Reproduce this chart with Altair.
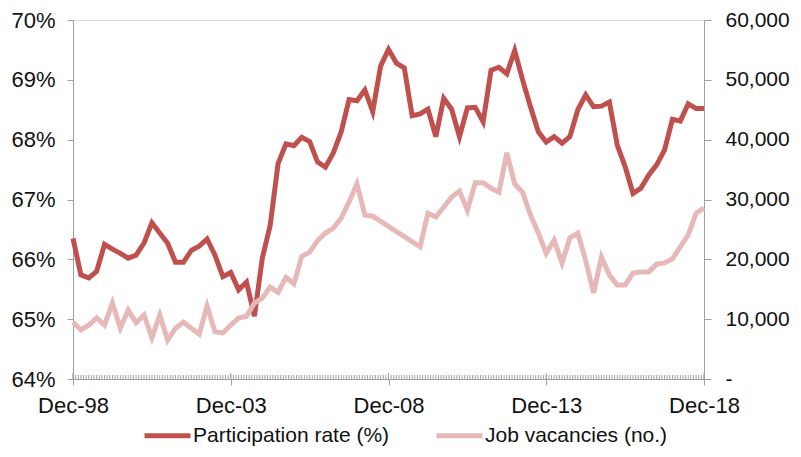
import altair as alt
import pandas as pd

# ---------------- data ----------------
series_names = ["Participation rate (%)", "Job vacancies (no.)"]
series_colors = ["#C0504D", "#E6B9B8"]

tick_labels = ["Dec-98", "Dec-03", "Dec-08", "Dec-13", "Dec-18"]
tick_quarters = [0, 20, 40, 60, 80]   # quarter index of each labelled tick (Dec-98 = 0)

# Quarterly participation rate, Dec-98 .. Dec-18 (81 quarters)
participation = [
    66.35, 65.74, 65.69, 65.80, 66.25, 66.17, 66.10, 66.02, 66.07, 66.27,
    66.61, 66.44, 66.27, 65.95, 65.95, 66.15, 66.22, 66.34, 66.07, 65.71,
    65.78, 65.49, 65.62, 65.05, 66.02, 66.57, 67.60, 67.93, 67.90, 68.04,
    67.97, 67.63, 67.54, 67.78, 68.13, 68.67, 68.65, 68.83, 68.47, 69.23,
    69.51, 69.28, 69.20, 68.40, 68.43, 68.51, 68.05, 68.69, 68.51, 68.05,
    68.53, 68.54, 68.30, 69.16, 69.21, 69.10, 69.49, 69.00, 68.55, 68.13,
    67.96, 68.05, 67.94, 68.05, 68.50, 68.75, 68.55, 68.56, 68.63, 67.91,
    67.55, 67.10, 67.19, 67.41, 67.58, 67.83, 68.34, 68.31, 68.60, 68.52,
    68.52,
]

# Quarterly job vacancies (None = survey not run)
vacancies = [
    9500, 8200, 9000, 10200, 9000, 12700, 8500, 11500, 9400, 10700,
    6900, 10700, 6500, 8500, 9500, 8500, 7500, 12200, 7900, 7700,
    9000, 10200, 10500, 12700, 13500, 15400, 14500, 17000, 15900, 20500,
    21200, 23100, 24400, 25200, 26900, 29600, 32600, 27400, 27200, None,
    None, None, None, None, 22100, 27700, 27100, 28700, 30400, 31400,
    28200, 32800, 32800, 31900, 31200, 37800, 32600, 31200, 27400, 24400,
    21000, 23200, 19400, 23600, 24400, 19800, 14400, 20400, 17400, 15700,
    15700, 17700, 17900, 17900, 19200, 19400, 20100, 22100, 24100, 27700,
    28600,
]

left_ticks = [64, 65, 66, 67, 68, 69, 70]
right_ticks = [0, 10000, 20000, 30000, 40000, 50000, 60000]

# ---------------- tables ----------------
df_p = pd.DataFrame({"idx": list(range(len(participation))),
                     "value": participation,
                     "series": series_names[0]})
df_v = pd.DataFrame({"idx": list(range(len(vacancies))),
                     "value": vacancies,
                     "series": series_names[1]}).dropna()
minor = pd.DataFrame({"idx": [m / 3 for m in range(3 * 80 + 1)]})
major = pd.DataFrame({"idx": tick_quarters})

W, H = 631, 359
FONT = "Liberation Sans"
AXIS_GREY = "#A0A0A0"

label_js = "[" + ",".join("'%s'" % t for t in tick_labels) + "]"
x_enc = alt.X(
    "idx:Q",
    scale=alt.Scale(domain=[0, 80], nice=False, zero=False),
    axis=alt.Axis(values=tick_quarters,
                  labelExpr=label_js + "[round(datum.value/20)]",
                  title=None, grid=False, tickSize=6, labelFlush=False,
                  labelOverlap=False,
                  labelPadding=10, domainColor=AXIS_GREY, tickColor=AXIS_GREY,
                  labelFont=FONT, labelFontSize=22, labelColor="#111"),
)

color_enc = alt.Color(
    "series:N",
    scale=alt.Scale(domain=series_names, range=series_colors),
    legend=alt.Legend(orient="none", legendX=69, legendY=390,
                      direction="horizontal", title=None,
                      symbolType="stroke", symbolSize=2116,
                      symbolStrokeWidth=5, labelFont=FONT,
                      labelFontSize=21, labelColor="#111", labelLimit=400,
                      columnPadding=36, labelOffset=0),
)

minor_ticks = alt.Chart(minor).mark_rule(color=AXIS_GREY, strokeWidth=1).encode(
    x=x_enc, y=alt.value(H - 4), y2=alt.value(H))
major_ticks = alt.Chart(major).mark_rule(color=AXIS_GREY, strokeWidth=1).encode(
    x=x_enc, y=alt.value(H - 6), y2=alt.value(H))

line_p = alt.Chart(df_p).mark_line(strokeWidth=5).encode(
    x=x_enc,
    y=alt.Y("value:Q",
            scale=alt.Scale(domain=[64, 70], nice=False, zero=False),
            axis=alt.Axis(values=left_ticks, orient="left",
                          labelExpr="datum.value + '%'", title=None,
                          grid=False, tickSize=6, labelPadding=12,
                          domainColor=AXIS_GREY, tickColor=AXIS_GREY,
                          labelFont=FONT, labelFontSize=22, labelColor="#111")),
    color=color_enc,
)

line_v = alt.Chart(df_v).mark_line(strokeWidth=5).encode(
    x=x_enc,
    y=alt.Y("value:Q",
            scale=alt.Scale(domain=[0, 60000], nice=False),
            axis=alt.Axis(values=right_ticks, orient="right",
                          labelExpr="datum.value == 0 ? '-' : format(datum.value, ',')",
                          title=None, grid=False, tickSize=7, labelPadding=14,
                          labelAlign="left", labelOverlap=False,
                          domainColor=AXIS_GREY, tickColor=AXIS_GREY,
                          labelFont=FONT, labelFontSize=21, labelColor="#111")),
    color=color_enc,
)

chart = alt.layer(minor_ticks, major_ticks, line_p, line_v).resolve_scale(
    y="independent"
).properties(
    width=W, height=H,
    autosize=alt.AutoSizeParams(type="none"),
    padding={"left": 65, "top": 12, "right": 89, "bottom": 70},
).configure_view(stroke=None).configure(font=FONT, background="white")

chart.save("out.html", embed_options={"renderer": "svg", "actions": False})
